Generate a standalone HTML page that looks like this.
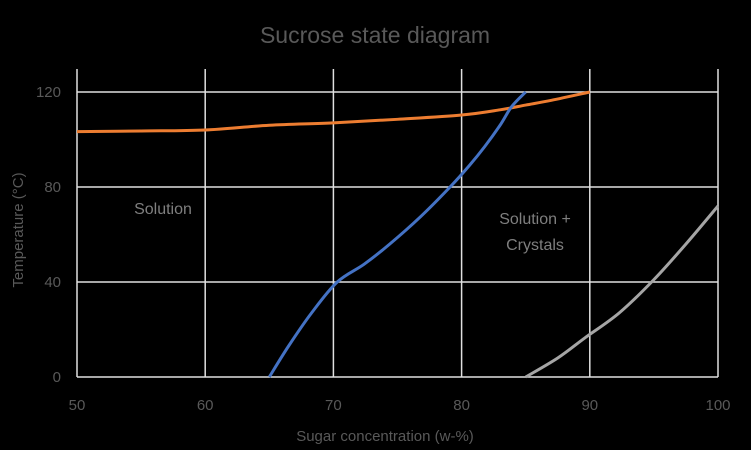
<!DOCTYPE html>
<html><head><meta charset="utf-8"><style>
html,body{margin:0;padding:0;background:#000;}
svg{display:block;font-family:"Liberation Sans",sans-serif;}
</style></head><body>
<svg id="chart" width="751" height="450" viewBox="0 0 751 450" xmlns="http://www.w3.org/2000/svg">
<rect width="751" height="450" fill="#000"/>
<text x="375" y="43" text-anchor="middle" font-size="23" fill="#595959">Sucrose state diagram</text>
<g id="grid"></g><g id="series"></g><g id="labels"></g>
<text x="385" y="441" text-anchor="middle" font-size="15" fill="#595959">Sugar concentration (w-%)</text>
<text transform="translate(23,230) rotate(-90)" text-anchor="middle" font-size="15" fill="#595959">Temperature (°C)</text>
<text x="163" y="214" text-anchor="middle" font-size="16" fill="#7f7f7f">Solution</text>
<text x="535" y="224" text-anchor="middle" font-size="16" fill="#7f7f7f">Solution +</text>
<text x="535" y="250" text-anchor="middle" font-size="16" fill="#7f7f7f">Crystals</text>
</svg>
<script>
const xTicks=[50,60,70,80,90,100];
const yTicks=[0,40,80,120];
const orangeX=[50,55,60,65,70,75,80,83,85,87,90];
const orangeY=[103.3,103.6,104,106,107,108.5,110.3,112.5,114.5,116.5,120];
const blueX=[65,66.5,68.3,70.3,72.4,74.4,76.8,79.1,80.6,81.8,83,83.9,85];
const blueY=[0,13,27,40,47.5,56,67.5,80,89,97,106,113.8,120];
const grayX=[85,87.5,89.6,92.3,95,97.5,100];
const grayY=[0,8,16.4,27,41,56,72];
const sx=v=>77+(v-50)*12.82;
const sy=v=>377-v*2.375;
const NS="http://www.w3.org/2000/svg";
const grid=document.getElementById('grid'),labels=document.getElementById('labels'),series=document.getElementById('series');
xTicks.forEach(t=>{
 const l=document.createElementNS(NS,'line');
 l.setAttribute('x1',sx(t));l.setAttribute('x2',sx(t));l.setAttribute('y1',69);l.setAttribute('y2',sy(0));
 l.setAttribute('stroke','#e0e0e0');l.setAttribute('stroke-width','1.5');
 
 
 grid.appendChild(l);
 const tx=document.createElementNS(NS,'text');
 tx.setAttribute('x',sx(t));tx.setAttribute('y',410);tx.setAttribute('text-anchor','middle');
 tx.setAttribute('font-size','15');tx.setAttribute('fill','#595959');tx.textContent=t;
 
 
 labels.appendChild(tx);
});
yTicks.forEach(t=>{
 const l=document.createElementNS(NS,'line');
 l.setAttribute('x1',sx(50));l.setAttribute('x2',sx(100));l.setAttribute('y1',sy(t));l.setAttribute('y2',sy(t));
 l.setAttribute('stroke','#e0e0e0');l.setAttribute('stroke-width','1.5');
 
 
 grid.appendChild(l);
 const tx=document.createElementNS(NS,'text');
 tx.setAttribute('x',61);tx.setAttribute('y',sy(t)+5);tx.setAttribute('text-anchor','end');
 tx.setAttribute('font-size','15');tx.setAttribute('fill','#595959');tx.textContent=t;
 
 
 labels.appendChild(tx);
});
function path(xs,ys,color,name){
 const pts=xs.map((x,i)=>[sx(x),sy(ys[i])]);
 let d='M'+pts[0][0]+','+pts[0][1];
 for(let i=0;i<pts.length-1;i++){
  const p0=pts[i-1]||pts[i],p1=pts[i],p2=pts[i+1],p3=pts[i+2]||p2;
  const c1=[p1[0]+(p2[0]-p0[0])/6,p1[1]+(p2[1]-p0[1])/6];
  const c2=[p2[0]-(p3[0]-p1[0])/6,p2[1]-(p3[1]-p1[1])/6];
  d+=' C'+c1+' '+c2+' '+p2;
 }
 const p=document.createElementNS(NS,'path');
 p.setAttribute('d',d);p.setAttribute('fill','none');p.setAttribute('stroke',color);p.setAttribute('stroke-width','3');
 
 
 series.appendChild(p);
}
path(orangeX,orangeY,'#ed7d31','boiling-curve');
path(blueX,blueY,'#4472c4','solubility-curve');
path(grayX,grayY,'#a5a5a5','crystal-curve');
</script>
</body></html>
